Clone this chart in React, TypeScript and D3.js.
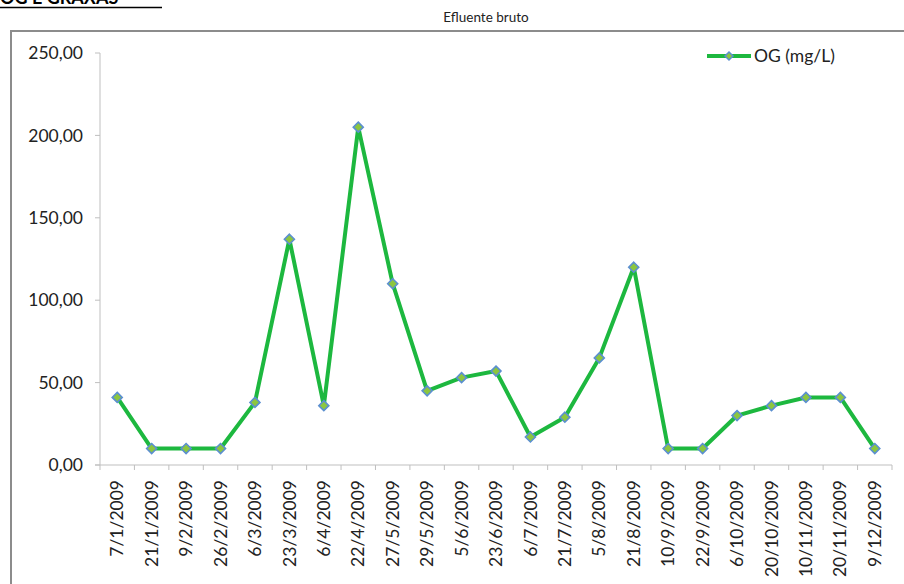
import React from "react";
import * as d3 from "d3";

const dates = [
  "7/1/2009", "21/1/2009", "9/2/2009", "26/2/2009", "6/3/2009", "23/3/2009",
  "6/4/2009", "22/4/2009", "27/5/2009", "29/5/2009", "5/6/2009", "23/6/2009",
  "6/7/2009", "21/7/2009", "5/8/2009", "21/8/2009", "10/9/2009", "22/9/2009",
  "6/10/2009", "20/10/2009", "10/11/2009", "20/11/2009", "9/12/2009",
];
const ogValues = [
  41, 10, 10, 10, 38, 137, 36, 205, 110, 45, 53, 57,
  17, 29, 65, 120, 10, 10, 30, 36, 41, 41, 10,
];
const yTicks = [0, 50, 100, 150, 200, 250];
const seriesName = "OG (mg/L)";

const font = "Lato, 'Open Sans', sans-serif";
const fs = 17.5;

export default function App() {
  const width = 904;
  const height = 584;
  const left = 100;
  const right = 892;
  const top = 53;
  const bottom = 465;

  const x = d3.scaleBand<string>().domain(dates).range([left, right]);
  const y = d3.scaleLinear().domain([0, 250]).range([bottom, top]);
  const cx = (d: string) => (x(d) as number) + x.bandwidth() / 2;

  const line = d3
    .line<number>()
    .x((_, i) => cx(dates[i]))
    .y((v) => y(v));

  const diamond = (px: number, py: number, r = 5) =>
    `M${px},${py - r}L${px + r},${py}L${px},${py + r}L${px - r},${py}Z`;

  const fmt = (v: number) => v.toFixed(2).replace(".", ",");

  const bands = [...dates.map((d) => x(d) as number), right];

  return (
    <svg
      width={width}
      height={height}
      style={{ position: "absolute", left: 0, top: 0, background: "#fff" }}
    >
      {/* heading, cropped at the top edge as in the source */}
      <text x={0} y={4} fontFamily={font} fontWeight="bold" fontSize={18} fill="#000">
        OG E GRAXAS
      </text>
      <line x1={0} x2={162} y1={7.5} y2={7.5} stroke="#000" strokeWidth={1.5} />

      <text x={486} y={22} textAnchor="middle" fontFamily={font} fontSize={13.5} fill="#222">
        Efluente bruto
      </text>

      <rect x={11} y={31} width={width} height={height} fill="#fff" stroke="#8c8c8c" strokeWidth={2} />

      {/* y axis */}
      <line x1={left} x2={left} y1={top} y2={bottom} stroke="#bfbfbf" />
      {yTicks.map((t) => (
        <g key={t}>
          <line x1={left - 5} x2={left} y1={y(t)} y2={y(t)} stroke="#bfbfbf" />
          <text
            x={left - 17}
            y={y(t)}
            dy="0.35em"
            textAnchor="end"
            fontFamily={font}
            fontSize={fs}
            fill="#222"
          >
            {fmt(t)}
          </text>
        </g>
      ))}

      {/* x axis */}
      <line x1={left - 5} x2={right} y1={bottom} y2={bottom} stroke="#bfbfbf" />
      {bands.map((bx, i) => (
        <line key={i} x1={bx} x2={bx} y1={bottom} y2={bottom + 5} stroke="#bfbfbf" />
      ))}
      {dates.map((d) => (
        <text
          key={d}
          transform={`translate(${cx(d) + fs * 0.35},${bottom + 15}) rotate(-90)`}
          textAnchor="end"
          fontFamily={font}
          fontSize={fs}
          fill="#222"
        >
          {d}
        </text>
      ))}

      {/* series */}
      <path
        d={line(ogValues) || ""}
        fill="none"
        stroke="#1db83f"
        strokeWidth={4}
        strokeLinejoin="round"
      />
      {ogValues.map((v, i) => (
        <path
          key={i}
          d={diamond(cx(dates[i]), y(v))}
          fill="#8cc63f"
          stroke="#5b8fd0"
          strokeWidth={1.6}
        />
      ))}

      {/* legend */}
      <line x1={707} x2={751} y1={56} y2={56} stroke="#1db83f" strokeWidth={4} />
      <path d={diamond(729, 56, 4)} fill="#8cc63f" stroke="#5b8fd0" strokeWidth={1.5} />
      <text x={754} y={56} dy="0.35em" fontFamily={font} fontSize={fs} fill="#222">
        {seriesName}
      </text>
    </svg>
  );
}
